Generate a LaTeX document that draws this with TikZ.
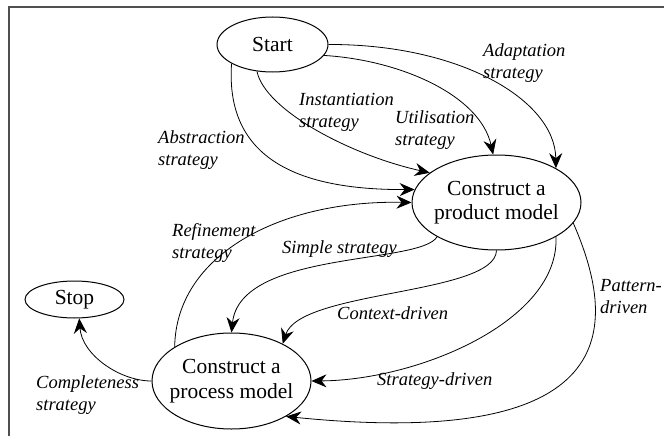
\documentclass[tikz,border=0pt]{standalone}
\usepackage{fontspec}
\setmainfont{Liberation Serif}
\usetikzlibrary{shapes.geometric,arrows.meta}
\begin{document}
\begin{tikzpicture}[x=1pt,y=-1pt,
  state/.style={ellipse,draw,line width=1pt,inner sep=0pt,font=\fontsize{21.5}{24.5}\selectfont},
  lbl/.style={inner sep=0pt,align=left,font=\fontsize{18.5}{22}\selectfont\itshape},
  conn/.style={line width=0.8pt,-{Stealth[length=15pt,width=13pt,inset=5pt]}},
  frame/.style={draw={rgb,255:red,80;green,80;blue,80},line width=1.3pt}]
\useasboundingbox (0,0) rectangle (664,436);
\fill[white] (0,0) rectangle (664,436);
\draw[frame] (9,440) -- (9,7) -- (670,7);

\node[state,minimum width=111pt,minimum height=55pt] (start) at (272.5,44.5) {Start};
\node[state,minimum width=169pt,minimum height=95pt,
  label={[align=center,inner sep=0pt,font=\fontsize{21.5}{24.5}\selectfont]center:Construct a\\product model}] (product) at (496.5,202.5) {};
\node[state,minimum width=159pt,minimum height=96pt,
  label={[align=center,inner sep=0pt,font=\fontsize{21.5}{24.5}\selectfont]center:Construct a\\process model}] (process) at (231.5,381) {};
\node[state,minimum width=99pt,minimum height=37pt] (stop) at (74.5,299.5) {Stop};

% Start -> product
\draw[conn] (start.0) .. controls (460,44) and (555,100) .. (product.30);
\draw[conn] (start.-12) .. controls (400,60) and (480,95) .. (product.94);
\draw[conn] (start.240) .. controls (265,110) and (350,155) .. (product.156);
\draw[conn] (start.205) .. controls (225,160) and (300,190) .. (product.171);
% process -> product
\draw[conn] (process.149) .. controls (176,255) and (280,200) .. (product.180);
% product -> process
\draw[conn] (product.210) .. controls (420,265) and (240,250) .. (process.90);
\draw[conn] (product.270) .. controls (495,295) and (300,290) .. (process.36);
\draw[conn] (product.330) .. controls (560,320) and (420,380) .. (process.0);
\draw[conn] (product.345) .. controls (620,330) and (620,450) .. (process.327);
% process -> stop
\draw[conn] (process.180) .. controls (120,381) and (82,355) .. (stop.284);

\node[lbl,anchor=west] (l1) at (483,63.5) {Adaptation\\strategy};
\node[lbl,anchor=west] (l2) at (395,130) {Utilisation\\strategy};
\node[lbl,anchor=west] (l3) at (299,112) {Instantiation\\strategy};
\node[lbl,anchor=west] (l4) at (158,150) {Abstraction\\strategy};
\node[lbl,anchor=west] (l5) at (172,242.5) {Refinement\\strategy};
\node[lbl,anchor=base west] (l6) at (282,253) {Simple strategy};
\node[lbl,anchor=base west] (l7) at (337,319) {Context-driven};
\node[lbl,anchor=base west] (l8) at (377,385) {Strategy-driven};
\node[lbl,anchor=west] (l9) at (600,296.5) {Pattern-\\driven};
\node[lbl,anchor=west] (l10) at (36,395.5) {Completeness\\strategy};
\end{tikzpicture}
\end{document}
